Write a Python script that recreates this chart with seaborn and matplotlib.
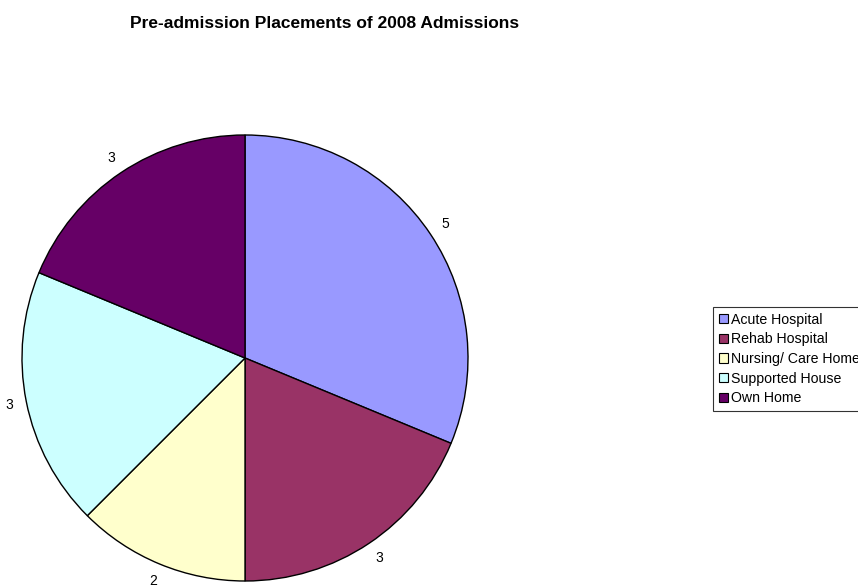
import matplotlib
matplotlib.use("Agg")
import matplotlib.pyplot as plt
import seaborn as sns

# Placement categories and admission counts
categories = ["Acute Hospital", "Rehab Hospital", "Nursing/ Care Home",
              "Supported House", "Own Home"]
counts = [5, 3, 2, 3, 3]
colors = ["#9999FF", "#993366", "#FFFFCC", "#CCFFFF", "#660066"]

sns.set_style("white")
plt.rcParams["font.family"] = ["Liberation Sans", "DejaVu Sans"]
plt.rcParams["text.color"] = "black"

W, H = 858, 587
fig = plt.figure(figsize=(W / 100, H / 100), dpi=100)

# Pie centred at (245, 358) px with radius 223 px
cx, cy, r = 245, 358, 223
ax = fig.add_axes([(cx - r) / W, (H - cy - r) / H, 2 * r / W, 2 * r / H])

wedges, texts = ax.pie(
    counts,
    labels=[str(v) for v in counts],
    colors=colors,
    startangle=90,
    counterclock=False,
    labeldistance=1.08,
    wedgeprops=dict(edgecolor="black", linewidth=1.0),
    textprops=dict(fontsize=10, color="black"),
)
for t in texts:
    t.set_ha("center")
    t.set_va("center")
ax.set_aspect("equal")
ax.set_xlim(-1, 1)
ax.set_ylim(-1, 1)
ax.axis("off")

fig.text(325 / W, 1 - 24 / H, "Pre-admission Placements of 2008 Admissions",
         ha="center", va="center", fontsize=12.5, fontweight="bold")

leg = fig.legend(
    wedges, categories,
    loc="upper left",
    bbox_to_anchor=(713 / W, 1 - 307 / H),
    frameon=True, fancybox=False, shadow=False,
    fontsize=10.2,
    handlelength=0.65, handleheight=0.65, handletextpad=0.2,
    labelspacing=0.4, borderpad=0.4, borderaxespad=0,
)
leg.get_frame().set_edgecolor("black")
leg.get_frame().set_linewidth(0.8)
for h in leg.legend_handles:
    h.set_edgecolor("black")
    h.set_linewidth(0.8)

fig.savefig("out.png", dpi=100)
